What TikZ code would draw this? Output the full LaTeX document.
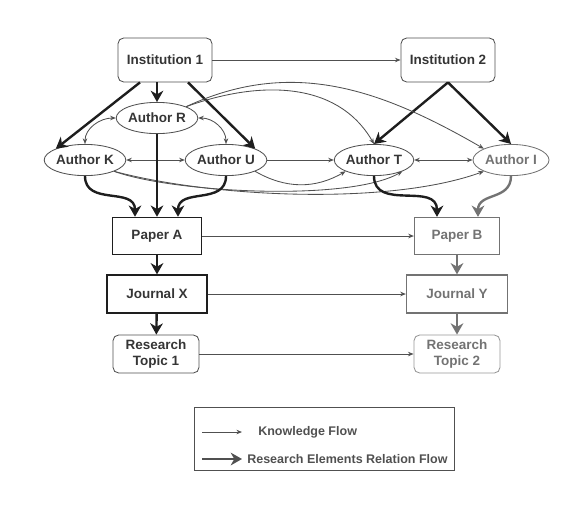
\documentclass[tikz,border=0pt]{standalone}
\usepackage{fontspec}
\setmainfont{Liberation Sans}
\usepackage{tikz}
\usetikzlibrary{shapes.geometric,arrows.meta,positioning,calc}
\definecolor{darkline}{RGB}{30,30,30}
\definecolor{midgray}{RGB}{80,80,80}
\definecolor{lightgray}{RGB}{115,115,115}
\definecolor{fadegray}{RGB}{150,150,150}

\begin{document}
\begin{tikzpicture}[
        box/.style={rectangle, draw=darkline, line width=0.9pt, minimum width=2.225cm, minimum height=0.925cm, align=center, inner sep=1pt, text=darkline!90, font=\bfseries\fontsize{9.6}{11.4}\selectfont},
        rbox/.style={box, rounded corners=4pt, draw=midgray, line width=0.6pt},
        auth/.style={ellipse, draw=midgray, line width=0.6pt, minimum width=1.9cm, minimum height=0.78cm, inner sep=0pt, text=darkline!90, font=\bfseries\fontsize{9.6}{11.4}\selectfont},
        legtext/.style={anchor=west, inner sep=0pt, text=midgray, font=\bfseries\fontsize{8.9}{10}\selectfont},
        arrow/.style={-{Stealth[length=4pt,width=3.2pt]}, line width=0.6pt, draw=midgray},
        biarrow/.style={arrow, {Stealth[length=4pt,width=3.2pt]}-{Stealth[length=4pt,width=3.2pt]}},
        flow/.style={-{Stealth[length=8pt,width=9pt,inset=2.5pt]}, line width=1.7pt, draw=darkline}]

        \useasboundingbox (0,0) rectangle (14.15,-12.725);

        \node[rbox, minimum width=2.35cm, minimum height=1.1cm] (INST1) at (4.125,-1.5) {Institution 1};
        \node[rbox, minimum width=2.35cm, minimum height=1.1cm] (INST2) at (11.2,-1.5) {Institution 2};
        \node[auth] (AUTHR) at (3.925,-2.95) {Author R};
        \node[auth] (AUTHK) at (2.125,-4.0) {Author K};
        \node[auth] (AUTHU) at (5.65,-4.0) {Author U};
        \node[auth] (AUTHT) at (9.35,-4.0) {Author T};
        \node[auth, draw=lightgray, text=lightgray] (AUTHI) at (12.775,-4.0) {Author I};
        \node[box, line width=1.1pt] (PAPA) at (3.925,-5.9) {Paper A};
        \node[box, draw=lightgray, text=lightgray, minimum width=2.125cm] (PAPB) at (11.425,-5.9) {Paper B};
        \node[box, minimum width=2.5cm, minimum height=0.95cm] (JRNX) at (3.925,-7.35) {Journal X};
        \node[box, draw=lightgray, text=lightgray, minimum width=2.525cm, minimum height=0.95cm] (JRNY) at (11.425,-7.35) {Journal Y};
        \node[rbox, minimum width=2.15cm, minimum height=0.95cm] (TOP1) at (3.9,-8.85) {Research\\Topic 1};
        \node[rbox, draw=fadegray, text=lightgray, minimum width=2.15cm, minimum height=0.95cm] (TOP2) at (11.425,-8.85) {Research\\Topic 2};

        \node[draw=midgray, line width=0.6pt, minimum width=6.5cm, minimum height=1.575cm] (LEG) at (8.1,-10.9625) {};
        \coordinate (KFA) at (5.05,-10.8);
        \coordinate (KFB) at (6.05,-10.8);
        \coordinate (RFA) at (5.05,-11.475);
        \coordinate (RFB) at (6.05,-11.475);
        \node[legtext] (KFTXT) at (6.45,-10.8) {Knowledge Flow};
        \node[legtext] (RFTXT) at (6.175,-11.475) {Research Elements Relation Flow};

        \draw[arrow] (INST1) -- (INST2);
        \draw[flow] ([xshift=-0.625cm]INST1.south) -- (AUTHK.north west);
        \draw[flow] (INST1.south -| AUTHR) -- (AUTHR.north);
        \draw[flow] ([xshift=0.575cm]INST1.south) -- (AUTHU.north east);
        \draw[flow] (INST2.south) -- (AUTHT.north);
        \draw[flow] (INST2.south) -- (AUTHI.north);

        \draw[biarrow] (AUTHR.west) to[out=180,in=90] (AUTHK.north);
        \draw[biarrow] (AUTHR.east) to[out=0,in=90] (AUTHU.north);
        \draw[biarrow] (AUTHK) -- (AUTHU);
        \draw[arrow] (AUTHU) -- (AUTHT);
        \draw[biarrow] (AUTHT) -- (AUTHI);
        \draw[arrow] (AUTHR.north east) to[out=20,in=120] (AUTHT.north);
        \draw[arrow] (AUTHR.north east) to[out=25,in=150] (AUTHI.north west);
        \draw[arrow] (AUTHU.south east) to[out=-30,in=-150] (AUTHT.south west);
        \draw[arrow] (AUTHK.south east) to[out=-20,in=-150,looseness=0.55] (AUTHT.south east);
        \draw[arrow] (AUTHK.south east) to[out=-15,in=-160,looseness=0.7] (AUTHI.south west);

        \draw[flow] (AUTHK.south) to[out=-90,in=90,looseness=1.2] ([xshift=-0.55cm]PAPA.north);
        \draw[flow] (AUTHR.south) -- (PAPA.north);
        \draw[flow] (AUTHU.south) to[out=-90,in=90,looseness=1.2] ([xshift=0.525cm]PAPA.north);
        \draw[flow] (AUTHT.south) to[out=-90,in=90,looseness=1.2] ([xshift=-0.5cm]PAPB.north);
        \draw[flow, draw=lightgray] (AUTHI.south) to[out=-90,in=90,looseness=1.2] ([xshift=0.525cm]PAPB.north);

        \draw[flow] (PAPA) -- (JRNX);
        \draw[flow] (JRNX) -- (TOP1);
        \draw[flow, draw=lightgray] (PAPB) -- (JRNY);
        \draw[flow, draw=lightgray] (JRNY) -- (TOP2);
        \draw[arrow] (PAPA) -- (PAPB);
        \draw[arrow] (JRNX) -- (JRNY);
        \draw[arrow] (TOP1) -- (TOP2);

        \draw[arrow] (KFA) -- (KFB);
        \draw[flow, draw=midgray] (RFA) -- (RFB);

    \end{tikzpicture}
\end{document}
